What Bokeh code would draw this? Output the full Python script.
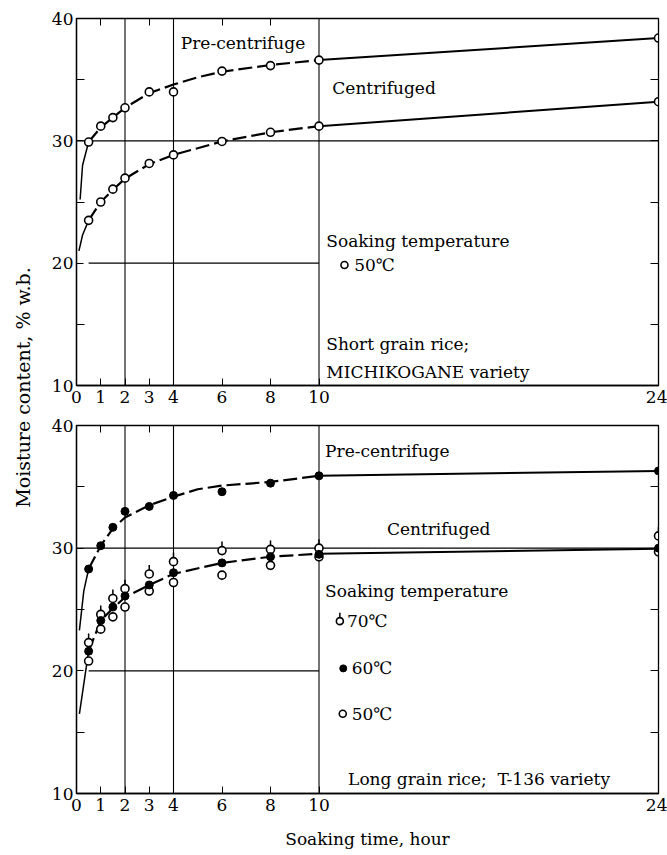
import math
from bokeh.plotting import figure
from bokeh.layouts import row, column
from bokeh.models import Range1d, LinearAxis, FixedTicker, Label
from bokeh.embed import file_html
from bokeh.resources import INLINE

# ---------------- data ----------------
hours = [0.5, 1, 1.5, 2, 3, 4, 6, 8, 10, 24]

# upper panel: short grain rice, MICHIKOGANE, 50 C
top_pre_50 = [29.9, 31.2, 31.9, 32.7, 34.0, 34.0, 35.7, 36.15, 36.6, 38.4]
top_cen_50 = [23.5, 25.0, 26.05, 26.95, 28.15, 28.85, 29.95, 30.7, 31.2, 33.2]

# lower panel: long grain rice, T-136
bot_pre_60 = [28.3, 30.2, 31.7, 33.0, 33.4, 34.3, 34.6, 35.3, 35.9, 36.3]
bot_cen_70 = [22.3, 24.6, 25.9, 26.7, 27.9, 28.9, 29.8, 29.9, 30.0, 31.0]
bot_cen_60 = [21.6, 24.1, 25.2, 26.1, 27.0, 28.0, 28.8, 29.3, 29.5, 30.0]
bot_cen_50 = [20.8, 23.4, 24.4, 25.2, 26.5, 27.2, 27.8, 28.6, 29.3, 29.7]

# fitted curves
top_pre_curve_h = [0.15, 0.25, 0.5, 1, 1.5, 2, 3, 4, 5, 6, 8, 10, 24]
top_pre_curve_v = [25.2, 28.0, 29.9, 31.1, 31.9, 32.7, 33.9, 34.6, 35.2, 35.65, 36.2, 36.6, 38.4]
top_cen_curve_h = [0.1, 0.25, 0.5, 1, 1.5, 2, 3, 4, 6, 8, 10, 24]
top_cen_curve_v = [21.0, 22.3, 23.5, 25.0, 26.0, 26.9, 28.1, 28.85, 29.95, 30.7, 31.2, 33.2]
bot_pre_curve_h = [0.12, 0.3, 0.5, 1, 1.5, 2, 3, 4, 5, 6, 8, 10, 24]
bot_pre_curve_v = [23.3, 26.5, 28.3, 30.2, 31.6, 32.5, 33.5, 34.2, 34.8, 35.1, 35.4, 35.9, 36.3]
bot_cen_curve_h = [0.12, 0.5, 1, 1.5, 2, 3, 4, 6, 8, 10, 24]
bot_cen_curve_v = [16.5, 21.6, 24.1, 25.1, 26.0, 27.0, 27.9, 28.8, 29.3, 29.55, 29.95]

x_ticks = [0, 1, 2, 3, 4, 6, 8, 10, 24]
x_top_ticks = [1, 3, 6, 8]
y_ticks = [10, 20, 30, 40]
y_minor = [15, 25, 35]
y_right_ticks = [15, 20, 25, 30, 35]
v_lines = [2, 4, 10]
h_lines = [30, 20]
h_line_from = [0, 0.5]
h_line_to = [24, 10]

FONT = "DejaVu Serif"
FS = "17px"
W_Y = 38
W_P = 629
H1, H2 = 412, 442
B1 = (18, 27)
B2 = (13, 61)
FRAME_H2 = H2 - B2[0] - B2[1]


def make_panel(height, b_top, b_bottom, xlabel=None):
    p = figure(width=W_P, height=height, x_range=Range1d(0, 24), y_range=Range1d(10, 40),
               output_backend="svg", toolbar_location=None, x_axis_type=None, y_axis_type=None,
               min_border_left=38, min_border_right=9, min_border_top=b_top,
               min_border_bottom=b_bottom)
    p.xgrid.visible = False
    p.ygrid.visible = False
    p.outline_line_color = "black"
    p.outline_line_width = 1.3
    p.background_fill_color = "white"

    xa = LinearAxis(ticker=FixedTicker(ticks=x_ticks))
    xa.major_tick_in = 7
    xa.major_tick_out = 0
    xa.minor_tick_in = 0
    xa.minor_tick_out = 0
    xa.major_label_standoff = 5
    xa.major_label_text_font = FONT
    xa.major_label_text_font_size = FS
    xa.major_label_text_color = "black"
    xa.axis_line_width = 1.3
    if xlabel:
        xa.axis_label = xlabel
        xa.axis_label_text_font = FONT
        xa.axis_label_text_font_size = FS
        xa.axis_label_text_font_style = "normal"
        xa.axis_label_text_color = "black"
        xa.axis_label_standoff = 15
    p.add_layout(xa, "below")

    ta = LinearAxis(ticker=FixedTicker(ticks=[], minor_ticks=x_top_ticks))
    ta.minor_tick_in = 7
    ta.minor_tick_out = 0
    ta.major_tick_out = 0
    ta.major_label_standoff = 0
    p.add_layout(ta, "above")

    ya = LinearAxis(ticker=FixedTicker(ticks=y_ticks, minor_ticks=y_minor))
    ya.major_tick_in = 7
    ya.major_tick_out = 0
    ya.minor_tick_in = 8
    ya.minor_tick_out = 0
    ya.major_label_standoff = 3
    ya.major_label_text_font = FONT
    ya.major_label_text_font_size = FS
    ya.major_label_text_color = "black"
    ya.axis_line_width = 1.3
    p.add_layout(ya, "left")

    ra = LinearAxis(ticker=FixedTicker(ticks=[], minor_ticks=y_right_ticks))
    ra.minor_tick_in = 8
    ra.minor_tick_out = 0
    ra.major_tick_out = 0
    ra.major_label_standoff = 0
    p.add_layout(ra, "right")

    # reference lines of the original graph paper
    p.segment(x0=v_lines, y0=[10] * len(v_lines), x1=v_lines, y1=[40] * len(v_lines),
              line_color="black", line_width=1.1)
    p.segment(x0=h_line_from, y0=h_lines, x1=h_line_to, y1=h_lines,
              line_color="black", line_width=1.1)
    return p


def draw_curve(p, hs, vs):
    head = [(h, v) for h, v in zip(hs, vs) if h <= 0.5]
    mid = [(h, v) for h, v in zip(hs, vs) if 0.5 <= h <= 10]
    tail = [(h, v) for h, v in zip(hs, vs) if h >= 10]
    p.line([a for a, b in head], [b for a, b in head], line_color="black", line_width=1.5)
    p.line([a for a, b in mid], [b for a, b in mid], line_color="black", line_width=2.2,
           line_dash="14 5")
    p.line([a for a, b in tail], [b for a, b in tail], line_color="black", line_width=2.0)


def open_pts(p, hs, vs, size=8):
    p.scatter(hs, vs, marker="circle", size=size, fill_color="white", line_color="black",
              line_width=1.6)


def filled_pts(p, hs, vs, size=8):
    p.scatter(hs, vs, marker="circle", size=size, fill_color="black", line_color="black",
              line_width=1.0)


def stem_pts(p, hs, vs, ppu, size=8):
    r = size / 2.0
    p.segment(x0=hs, y0=[v + r / ppu for v in vs], x1=hs, y1=[v + (r + 5) / ppu for v in vs],
              line_color="black", line_width=1.5)
    open_pts(p, hs, vs, size)


def text(p, x, y, s):
    p.add_layout(Label(x=x, y=y, text=s, text_font=FONT, text_font_size=FS,
                       text_baseline="middle", text_align="left", text_color="black"))


# ---------------- upper panel ----------------
p1 = make_panel(H1, *B1)
draw_curve(p1, top_pre_curve_h, top_pre_curve_v)
draw_curve(p1, top_cen_curve_h, top_cen_curve_v)
open_pts(p1, hours, top_pre_50)
open_pts(p1, hours, top_cen_50)

text(p1, 4.3, 38.0, "Pre-centrifuge")
text(p1, 10.55, 34.3, "Centrifuged")
text(p1, 10.3, 21.8, "Soaking temperature")
open_pts(p1, [11.05], [19.85], size=7)
text(p1, 11.45, 19.85, "50℃")
text(p1, 10.3, 13.4, "Short grain rice;")
text(p1, 10.3, 11.1, "MICHIKOGANE variety")

# ---------------- lower panel ----------------
ppu2 = FRAME_H2 / 30.0
p2 = make_panel(H2, *B2, xlabel="Soaking time, hour")
draw_curve(p2, bot_pre_curve_h, bot_pre_curve_v)
draw_curve(p2, bot_cen_curve_h, bot_cen_curve_v)
open_pts(p2, hours, bot_cen_50)
stem_pts(p2, hours, bot_cen_70, ppu2)
filled_pts(p2, hours, bot_cen_60)
filled_pts(p2, hours, bot_pre_60)

text(p2, 10.25, 37.9, "Pre-centrifuge")
text(p2, 12.8, 31.6, "Centrifuged")
text(p2, 10.25, 26.5, "Soaking temperature")
stem_pts(p2, [10.86], [24.05], ppu2, size=7)
text(p2, 11.15, 24.05, "70℃")
filled_pts(p2, [11.0], [20.2], size=7)
text(p2, 11.35, 20.2, "60℃")
open_pts(p2, [10.98], [16.5], size=7)
text(p2, 11.35, 16.5, "50℃")
text(p2, 11.2, 11.2, "Long grain rice;\u00a0\u00a0T-136 variety")

# ---------------- shared y title ----------------
H_TOTAL = H1 + H2
py = figure(width=W_Y, height=H_TOTAL, x_range=Range1d(0, 1), y_range=Range1d(0, 1),
            output_backend="svg", toolbar_location=None, x_axis_type=None, y_axis_type=None,
            min_border=0)
py.xgrid.visible = False
py.ygrid.visible = False
py.outline_line_color = None
py.add_layout(Label(x=22, y=H_TOTAL - 387, x_units="screen", y_units="screen",
                    angle=math.pi / 2, text="Moisture content, % w.b.", text_font=FONT,
                    text_font_size="19px", text_align="center", text_baseline="middle",
                    text_color="black"))

layout = row(py, column(p1, p2))
open("out.html", "w").write(file_html(layout, INLINE))
